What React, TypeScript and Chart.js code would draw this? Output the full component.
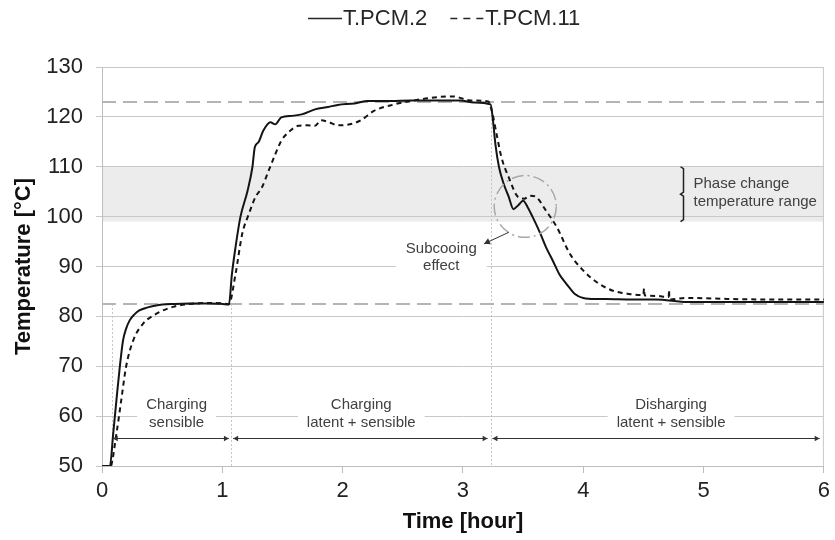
import React, { useEffect, useRef } from "react";
import { Chart, registerables } from "chart.js";

Chart.register(...registerables);

// ---------- data ----------
const seriesNames = ["T.PCM.2", "T.PCM.11"];

const pcm2Time = [0, 0.066, 0.093, 0.12, 0.148, 0.175, 0.2, 0.23, 0.27, 0.31, 0.38, 0.45, 0.6, 0.73, 0.9, 1.0, 1.055, 1.08, 1.11, 1.15, 1.21, 1.25, 1.27, 1.3, 1.34, 1.4, 1.44, 1.49, 1.58, 1.66, 1.77, 1.88, 1.96, 2.1, 2.21, 2.4, 2.57, 2.8, 2.98, 3.09, 3.23, 3.25, 3.27, 3.3, 3.34, 3.38, 3.42, 3.46, 3.5, 3.54, 3.58, 3.64, 3.69, 3.75, 3.8, 3.85, 3.89, 3.93, 4.0, 4.1, 4.19, 4.4, 4.6, 4.87, 5.2, 5.5, 5.8, 6.0];
const pcm2Temp = [50, 50, 56.5, 63.2, 69.9, 75.2, 77.5, 79.2, 80.4, 81.2, 81.8, 82.2, 82.5, 82.6, 82.6, 82.5, 82.4, 88.5, 93.9, 99.9, 105.2, 109.9, 113.9, 114.9, 117.2, 118.9, 118.5, 119.9, 120.2, 120.5, 121.5, 122.0, 122.4, 122.7, 123.2, 123.2, 123.3, 123.3, 123.3, 122.9, 122.5, 119.2, 114.5, 109.9, 106.5, 104.0, 101.5, 102.3, 103.2, 101.8, 99.9, 96.8, 93.9, 91.0, 88.5, 86.8, 85.6, 84.5, 83.7, 83.5, 83.5, 83.4, 83.4, 82.9, 82.9, 82.9, 82.9, 82.9];

const pcm11Time = [0, 0.07, 0.12, 0.16, 0.2, 0.26, 0.34, 0.45, 0.59, 0.73, 0.9, 1.0, 1.055, 1.11, 1.165, 1.22, 1.275, 1.33, 1.385, 1.44, 1.49, 1.55, 1.63, 1.7, 1.77, 1.82, 1.88, 1.96, 2.04, 2.15, 2.26, 2.43, 2.57, 2.76, 2.92, 3.06, 3.21, 3.24, 3.28, 3.32, 3.38, 3.46, 3.51, 3.56, 3.61, 3.69, 3.78, 3.89, 4.0, 4.11, 4.24, 4.38, 4.5, 4.505, 4.51, 4.6, 4.71, 4.713, 4.716, 4.87, 5.2, 5.5, 5.8, 6.0];
const pcm11Temp = [50, 50, 56.5, 63.2, 69.9, 75.2, 78.5, 80.5, 81.9, 82.5, 82.7, 82.6, 82.5, 88.5, 96.5, 100.5, 103.9, 105.9, 109.2, 112.5, 115.2, 116.9, 118.2, 118.3, 118.2, 119.3, 119.0, 118.3, 118.4, 119.3, 121.2, 122.5, 123.2, 123.9, 124.1, 123.3, 123.1, 121.2, 116.5, 111.9, 107.9, 103.9, 103.6, 104.2, 103.9, 101.2, 97.9, 92.5, 89.2, 86.9, 85.2, 84.5, 84.3, 85.6, 84.2, 84.1, 83.9, 85.3, 83.4, 83.7, 83.5, 83.4, 83.4, 83.4];

const xTickValues = [0, 1, 2, 3, 4, 5, 6];
const yTickValues = [50, 60, 70, 80, 90, 100, 110, 120, 130];

// annotations (data coordinates)
const phaseBand = [99, 110];
const refTemps = [123, 82.5];
const stageLines = [0.08, 1.07, 3.23];
const stageLineTops = [82.5, 82.5, 122];
const stageLabels = [["Charging", "sensible"], ["Charging", "latent + sensible"], ["Disharging", "latent + sensible"]];
const stageLabelX = [0.62, 2.155, 4.73];
const stageArrows = [[0.09, 1.055], [1.09, 3.205], [3.245, 5.965]];
const arrowTemp = 55.7;
const phaseText = ["Phase change", "temperature range"];
const subcoolText = ["Subcooing", "effect"];

const FONT = "'Liberation Sans', Arial, Helvetica, sans-serif";

function arrowHead(ctx: CanvasRenderingContext2D, x: number, y: number, dir: number, size = 5) {
  ctx.beginPath();
  ctx.moveTo(x, y);
  ctx.lineTo(x - dir * size, y - size * 0.55);
  ctx.lineTo(x - dir * size, y + size * 0.55);
  ctx.closePath();
  ctx.fill();
}

const annotPlugin = {
  id: "annot",
  beforeDraw(chart: any) {
    const { ctx, chartArea, scales } = chart;
    const y = scales.y;
    ctx.save();
    ctx.fillStyle = "#ececec";
    const t = y.getPixelForValue(phaseBand[1]);
    const b = y.getPixelForValue(phaseBand[0]);
    ctx.fillRect(chartArea.left, t, chartArea.right - chartArea.left, b - t);
    ctx.restore();
  },
  beforeDatasetsDraw(chart: any) {
    const { ctx, chartArea, scales } = chart;
    const x = scales.x, y = scales.y;
    ctx.save();
    // right border
    ctx.strokeStyle = "#c8c8c8";
    ctx.lineWidth = 1;
    ctx.beginPath();
    ctx.moveTo(chartArea.right - 0.5, chartArea.top);
    ctx.lineTo(chartArea.right - 0.5, chartArea.bottom);
    ctx.stroke();
    // stage vertical dotted lines
    ctx.strokeStyle = "#c4c4c4";
    ctx.setLineDash([2, 2]);
    stageLines.forEach((v, i) => {
      const px = Math.round(x.getPixelForValue(v)) + 0.5;
      ctx.beginPath();
      ctx.moveTo(px, y.getPixelForValue(stageLineTops[i]));
      ctx.lineTo(px, chartArea.bottom);
      ctx.stroke();
    });
    // reference dashed lines
    ctx.strokeStyle = "#b4b4b4";
    ctx.lineWidth = 2;
    ctx.setLineDash([14, 7]);
    refTemps.forEach((v) => {
      const py = y.getPixelForValue(v);
      ctx.beginPath();
      ctx.moveTo(chartArea.left, py);
      ctx.lineTo(chartArea.right, py);
      ctx.stroke();
    });
    ctx.setLineDash([]);

    // stage labels with white background
    ctx.font = `15px ${FONT}`;
    ctx.textAlign = "center";
    ctx.textBaseline = "middle";
    stageLabels.forEach((lines, i) => {
      const cx = x.getPixelForValue(stageLabelX[i]);
      const y0 = y.getPixelForValue(60) - 11;
      const w = Math.max(...lines.map((l) => ctx.measureText(l).width)) + 18;
      ctx.fillStyle = "#ffffff";
      ctx.fillRect(cx - w / 2, y0 - 9, w, 36);
      ctx.fillStyle = "#404040";
      lines.forEach((l, k) => ctx.fillText(l, cx, y0 + k * 18));
    });
    // subcooling label
    {
      const cx = x.getPixelForValue(2.82);
      const y0 = y.getPixelForValue(93.5);
      const w = Math.max(...subcoolText.map((l) => ctx.measureText(l).width)) + 20;
      ctx.fillStyle = "#ffffff";
      ctx.fillRect(cx - w / 2, y0 - 9, w, 35);
      ctx.fillStyle = "#404040";
      subcoolText.forEach((l, k) => ctx.fillText(l, cx, y0 + k * 17));
    }
    ctx.restore();
  },
  afterDatasetsDraw(chart: any) {
    const { ctx, scales } = chart;
    const x = scales.x, y = scales.y;
    ctx.save();
    // stage arrows
    ctx.strokeStyle = "#333";
    ctx.fillStyle = "#333";
    ctx.lineWidth = 1;
    const ay = Math.round(y.getPixelForValue(arrowTemp)) + 0.5;
    stageArrows.forEach(([a, b]) => {
      const pa = x.getPixelForValue(a), pb = x.getPixelForValue(b);
      ctx.beginPath();
      ctx.moveTo(pa, ay);
      ctx.lineTo(pb, ay);
      ctx.stroke();
      arrowHead(ctx, pa, ay, -1);
      arrowHead(ctx, pb, ay, 1);
    });
    // subcooling circle (dash-dot)
    ctx.strokeStyle = "#a8a8a8";
    ctx.lineWidth = 1.5;
    ctx.setLineDash([12, 4, 2, 4]);
    const cx = x.getPixelForValue(3.518), cy = y.getPixelForValue(102.04);
    const rx = x.getPixelForValue(3.518 + 0.258) - cx;
    const ry = y.getPixelForValue(102.04 - 6.2) - cy;
    ctx.beginPath();
    ctx.ellipse(cx, cy, rx, ry, 0, 0, Math.PI * 2);
    ctx.stroke();
    ctx.setLineDash([]);
    // pointer arrow to subcooling text
    ctx.strokeStyle = "#333";
    ctx.fillStyle = "#333";
    ctx.lineWidth = 1;
    const sx = x.getPixelForValue(3.381), sy = y.getPixelForValue(96.86);
    const ex = x.getPixelForValue(3.175), ey = y.getPixelForValue(94.54);
    ctx.beginPath();
    ctx.moveTo(sx, sy);
    ctx.lineTo(ex, ey);
    ctx.stroke();
    {
      const ang = Math.atan2(ey - sy, ex - sx);
      ctx.save();
      ctx.translate(ex, ey);
      ctx.rotate(ang);
      arrowHead(ctx, 0, 0, 1, 6);
      ctx.restore();
    }
    // bracket for phase change range
    const bx = Math.round(x.getPixelForValue(4.826)) + 0.5;
    const bt = y.getPixelForValue(phaseBand[1]);
    const bb = y.getPixelForValue(phaseBand[0]);
    const bm = (bt + bb) / 2;
    ctx.strokeStyle = "#222";
    ctx.lineWidth = 1.5;
    ctx.beginPath();
    ctx.moveTo(bx - 3, bt);
    ctx.lineTo(bx, bt + 2);
    ctx.lineTo(bx, bm - 2);
    ctx.lineTo(bx - 3, bm);
    ctx.lineTo(bx, bm + 2);
    ctx.lineTo(bx, bb - 2);
    ctx.lineTo(bx - 3, bb);
    ctx.stroke();
    ctx.font = `15px ${FONT}`;
    ctx.fillStyle = "#404040";
    ctx.textAlign = "left";
    ctx.textBaseline = "middle";
    ctx.fillText(phaseText[0], bx + 10, y.getPixelForValue(106.6));
    ctx.fillText(phaseText[1], bx + 10, y.getPixelForValue(102.9));

    // legend
    ctx.font = `22px ${FONT}`;
    ctx.fillStyle = "#262626";
    ctx.strokeStyle = "#262626";
    ctx.lineWidth = 1.5;
    const ly = 18.5;
    let lx = 308;
    ctx.beginPath();
    ctx.moveTo(lx, ly);
    ctx.lineTo(lx + 34, ly);
    ctx.stroke();
    ctx.fillText(seriesNames[0], lx + 35, ly);
    lx = lx + 35 + ctx.measureText(seriesNames[0]).width + 23;
    ctx.setLineDash([7, 6]);
    ctx.beginPath();
    ctx.moveTo(lx, ly);
    ctx.lineTo(lx + 33, ly);
    ctx.stroke();
    ctx.setLineDash([]);
    ctx.fillText(seriesNames[1], lx + 35, ly);
    ctx.restore();
  },
};

export default function App() {
  const ref = useRef<HTMLCanvasElement | null>(null);
  useEffect(() => {
    if (!ref.current) return;
    const chart = new Chart(ref.current, {
      type: "line",
      data: {
        datasets: [
          {
            label: seriesNames[0],
            data: pcm2Time.map((t, i) => ({ x: t, y: pcm2Temp[i] })),
            borderColor: "#141414",
            borderWidth: 2,
            pointRadius: 0,
            cubicInterpolationMode: "monotone",
            fill: false,
          },
          {
            label: seriesNames[1],
            data: pcm11Time.map((t, i) => ({ x: t, y: pcm11Temp[i] })),
            borderColor: "#141414",
            borderWidth: 2,
            borderDash: [5, 4],
            pointRadius: 0,
            cubicInterpolationMode: "monotone",
            fill: false,
          },
        ],
      },
      options: {
        animation: false,
        responsive: false,
        devicePixelRatio: 1,
        layout: { padding: { top: 67, right: 6, left: 0, bottom: 0 } },
        plugins: { legend: { display: false }, tooltip: { enabled: false } },
        scales: {
          x: {
            type: "linear",
            min: 0,
            max: 6,
            afterBuildTicks: (s: any) => {
              s.ticks = xTickValues.map((v) => ({ value: v }));
            },
            afterFit: (s: any) => {
              s.height = 74;
            },
            ticks: { font: { size: 22, family: FONT }, color: "#222", padding: 5, maxRotation: 0 },
            grid: { drawOnChartArea: false, drawTicks: true, tickLength: 7, color: "#bdbdbd" },
            border: { display: true, color: "#bdbdbd" },
            title: {
              display: true,
              text: "Time [hour]",
              color: "#111",
              font: { size: 22, weight: "bold", family: FONT },
              padding: { top: 0, bottom: 5 },
            },
          },
          y: {
            type: "linear",
            min: 50,
            max: 130,
            afterBuildTicks: (s: any) => {
              s.ticks = yTickValues.map((v) => ({ value: v }));
            },
            afterFit: (s: any) => {
              s.width = 102;
            },
            ticks: { font: { size: 22, family: FONT }, color: "#222", padding: 13 },
            grid: { color: "#c8c8c8", tickLength: 6, drawTicks: true },
            border: { display: true, color: "#bdbdbd" },
            title: {
              display: true,
              text: "Temperature [°C]",
              color: "#111",
              font: { size: 22, weight: "bold", family: FONT },
              padding: { top: 11, bottom: 0 },
            },
          },
        },
      } as any,
      plugins: [annotPlugin],
    });
    return () => chart.destroy();
  }, []);
  return (
    <div style={{ position: "fixed", left: 0, top: 0, width: 835, height: 540, background: "#fff" }}>
      <canvas ref={ref} width={835} height={540} />
    </div>
  );
}
